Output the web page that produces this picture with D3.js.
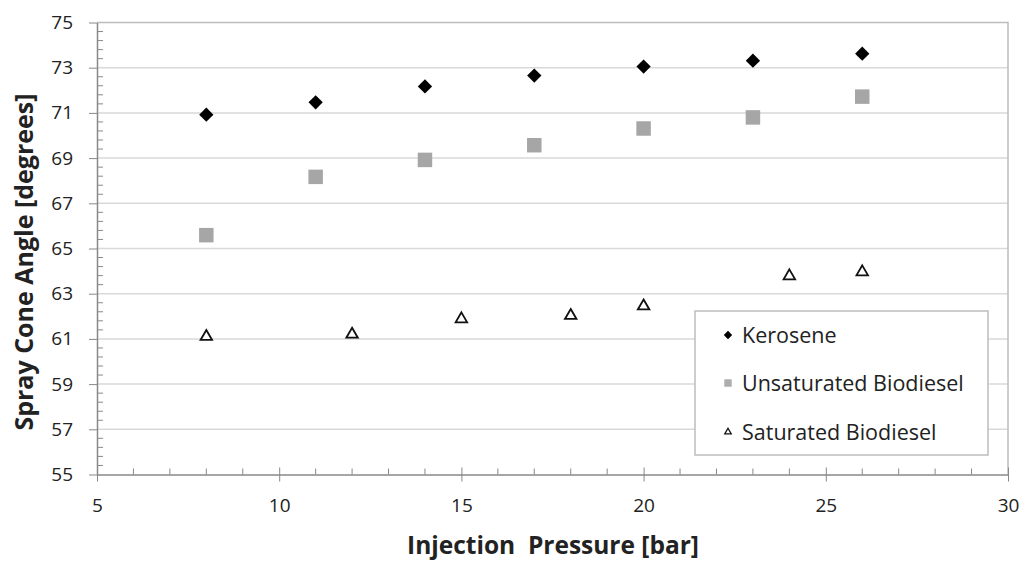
<!DOCTYPE html>
<html>
<head>
<meta charset="utf-8">
<script src="https://cdn.jsdelivr.net/npm/d3@7"></script>
<style>
  html, body { margin: 0; padding: 0; background: #fff; }
  svg { display: block; }
  text { font-family: "Open Sans", "DejaVu Sans", sans-serif; fill: #222; }
</style>
</head>
<body>
<svg id="chart" width="1027" height="561"></svg>
<script>
// Injection pressure [bar] for each series
const pressureKerosene = [8, 11, 14, 17, 20, 23, 26];
const pressureUnsaturated = [8, 11, 14, 17, 20, 23, 26];
const pressureSaturated = [8, 12, 15, 18, 20, 24, 26];

// Spray cone angle [degrees]
const angleKerosene = [70.92, 71.47, 72.17, 72.65, 73.05, 73.31, 73.62];
const angleUnsaturated = [65.59, 68.17, 68.92, 69.57, 70.31, 70.80, 71.72];
const angleSaturated = [61.10, 61.20, 61.88, 62.03, 62.45, 63.78, 63.96];

// Axis ticks
const xTicks = [5, 10, 15, 20, 25, 30];
const yTicks = [55, 57, 59, 61, 63, 65, 67, 69, 71, 73, 75];

const seriesNames = ["Kerosene", "Unsaturated Biodiesel", "Saturated Biodiesel"];

const svg = d3.select("#chart");
const margin = { left: 97, top: 22.5, right: 1027 - 1008, bottom: 561 - 474.5 };
const W = 1027 - margin.left - margin.right;
const H = 561 - margin.top - margin.bottom;

const x = d3.scaleLinear().domain([5, 30]).range([0, W]);
const y = d3.scaleLinear().domain([55, 75]).range([H, 0]);

const g = svg.append("g").attr("transform", `translate(${margin.left},${margin.top})`);

// Horizontal gridlines
g.append("g")
  .selectAll("line")
  .data(yTicks.filter(v => v !== 55 && v !== 75))
  .join("line")
  .attr("x1", 0).attr("x2", W)
  .attr("y1", d => y(d)).attr("y2", d => y(d))
  .attr("stroke", "#d9d9d9").attr("stroke-width", 1.5);

// Plot area border (top and right)
g.append("path")
  .attr("d", `M0,${y(75)}H${W}V${H}`)
  .attr("fill", "none").attr("stroke", "#bdbdbd").attr("stroke-width", 1.5);

// Minor ticks (inside the plot)
const xMinor = d3.range(5, 30.001, 1).filter(v => v % 5 !== 0);
g.append("g").selectAll("line").data(xMinor).join("line")
  .attr("x1", d => x(d)).attr("x2", d => x(d))
  .attr("y1", H).attr("y2", H - 6)
  .attr("stroke", "#888").attr("stroke-width", 1);

const yMinor = d3.range(55, 75.001, 0.4).filter(v => Math.abs((v - 55) / 2 - Math.round((v - 55) / 2)) > 0.01);
g.append("g").selectAll("line").data(yMinor).join("line")
  .attr("x1", 0).attr("x2", 6)
  .attr("y1", d => y(d)).attr("y2", d => y(d))
  .attr("stroke", "#888").attr("stroke-width", 1);

// X axis
const xAxis = g.append("g")
  .attr("transform", `translate(0,${H})`)
  .call(d3.axisBottom(x).tickValues(xTicks).tickSize(7).tickPadding(17).tickSizeOuter(0));
xAxis.select(".domain").attr("stroke", "#888").attr("stroke-width", 1.5);
xAxis.selectAll(".tick line").attr("stroke", "#888").attr("y1", -7);
xAxis.selectAll(".tick text")
  .attr("font-size", 19).attr("fill", "#222")
  .attr("font-family", "'Open Sans', sans-serif");

// Y axis
const yAxis = g.append("g")
  .call(d3.axisLeft(y).tickValues(yTicks).tickSize(8).tickPadding(16).tickSizeOuter(0));
yAxis.select(".domain").attr("stroke", "#888").attr("stroke-width", 1.5);
yAxis.selectAll(".tick line").attr("stroke", "#888");
yAxis.selectAll(".tick text")
  .attr("font-size", 19).attr("fill", "#222")
  .attr("font-family", "'Open Sans', sans-serif");

// Axis titles
svg.append("text")
  .attr("x", 553).attr("y", 554)
  .attr("text-anchor", "middle")
  .style("white-space", "pre")
  .attr("font-size", 24.5).attr("font-weight", "bold")
  .text("Injection  Pressure [bar]");

svg.append("text")
  .attr("transform", "translate(33,262) rotate(-90)")
  .attr("text-anchor", "middle")
  .attr("font-size", 25).attr("font-weight", "bold")
  .text("Spray Cone Angle [degrees]");

// Marker shapes
const diamond = d3.symbol().type(d3.symbolDiamond2);
const square = d3.symbol().type(d3.symbolSquare);
const triangle = d3.symbol().type(d3.symbolTriangle2);

const plot = g.append("g");

plot.selectAll("path.ker")
  .data(d3.zip(pressureKerosene, angleKerosene))
  .join("path").attr("class", "ker")
  .attr("transform", d => `translate(${x(d[0])},${y(d[1])})`)
  .attr("d", diamond.size(130)())
  .attr("fill", "#000");

plot.selectAll("path.uns")
  .data(d3.zip(pressureUnsaturated, angleUnsaturated))
  .join("path").attr("class", "uns")
  .attr("transform", d => `translate(${x(d[0])},${y(d[1])})`)
  .attr("d", square.size(210)())
  .attr("fill", "#a6a6a6");

plot.selectAll("path.sat")
  .data(d3.zip(pressureSaturated, angleSaturated))
  .join("path").attr("class", "sat")
  .attr("transform", d => `translate(${x(d[0])},${y(d[1])})`)
  .attr("d", triangle.size(95)())
  .attr("fill", "#fff").attr("stroke", "#111").attr("stroke-width", 1.8);

// Legend
const legend = svg.append("g").attr("transform", "translate(695,311)");
legend.append("rect")
  .attr("width", 293).attr("height", 144)
  .attr("fill", "#fff").attr("stroke", "#bdbdbd").attr("stroke-width", 1.5);

const legendMarks = [
  { path: diamond.size(45)(), fill: "#000", stroke: "none" },
  { path: square.size(55)(), fill: "#adadad", stroke: "none" },
  { path: triangle.size(30)(), fill: "#fff", stroke: "#111" }
];
const rowY = [24, 72, 121];

const rows = legend.selectAll("g.row")
  .data(seriesNames)
  .join("g").attr("class", "row")
  .attr("transform", (d, i) => `translate(0,${rowY[i]})`);

rows.append("path")
  .attr("transform", "translate(33,0)")
  .attr("d", (d, i) => legendMarks[i].path)
  .attr("fill", (d, i) => legendMarks[i].fill)
  .attr("stroke", (d, i) => legendMarks[i].stroke)
  .attr("stroke-width", 1.3);

rows.append("text")
  .attr("x", 47).attr("y", 0)
  .attr("dy", "0.36em")
  .attr("font-size", 21.5)
  .text(d => d);
</script>
</body>
</html>
